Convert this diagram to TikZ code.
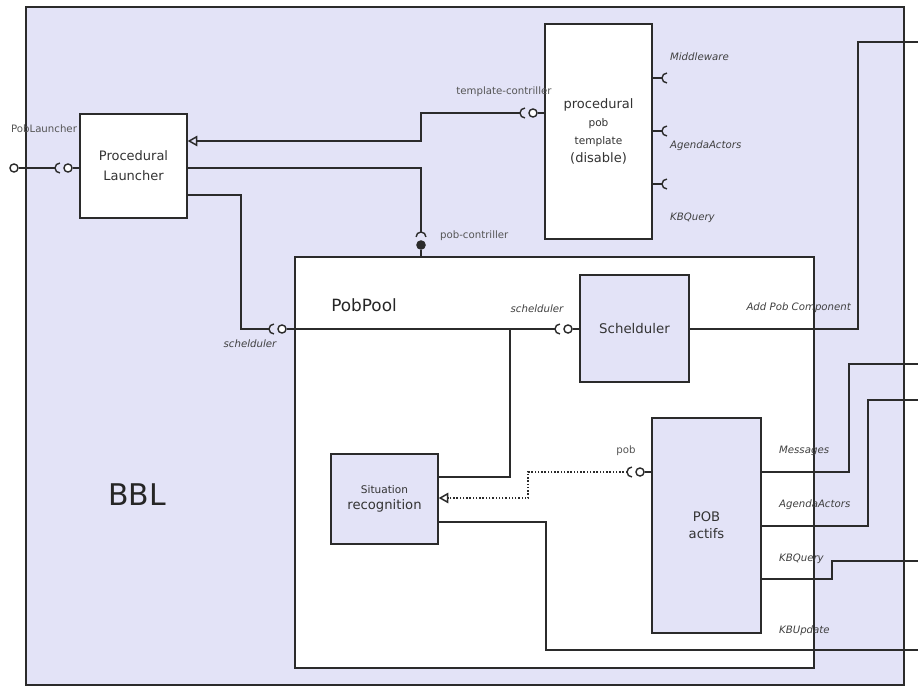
\documentclass[tikz,border=0pt]{standalone}
\usepackage{fontspec}
\setmainfont{DejaVu Sans}
\usetikzlibrary{arrows.meta,positioning,calc}
\definecolor{BBLFill}{HTML}{E3E3F7}
\definecolor{WireGray}{HTML}{2B2B2B}
\definecolor{LabelGray}{HTML}{555555}
\tikzset{
  cup/.pic={
    \draw[WireGray,line width=0.8pt] (0,0) arc[start angle=180,end angle=90,radius=2.8pt]
      (0,0) arc[start angle=180,end angle=270,radius=2.8pt];
  }
}

\begin{document}
\begin{tikzpicture}[
    x=0.02cm, y=-0.02cm,
    comp/.style={
      draw=WireGray,
      line width=0.8pt,
      fill=#1,
      inner sep=0pt,
      align=center,
      text=black!80
    },
    wire/.style={
      draw=WireGray,
      line width=0.85pt
    },
    ball/.style={
      circle,
      draw=WireGray,
      fill=#1,
      line width=0.8pt,
      inner sep=0pt,
      minimum size=4.6pt
    },
    port/.style={
      font=\fontsize{5.8}{7}\selectfont,
      text=LabelGray,
      inner sep=1pt
    },
    iface/.style={
      font=\fontsize{5.8}{7}\selectfont\itshape,
      text=black!75,
      inner sep=1pt
    },
    realize/.style={
      wire,
      -{Triangle[open,length=5.5pt,width=6pt]}
    }
  ]
  \useasboundingbox (0,0) rectangle (918,686);

  % Containers
  \node[comp=BBLFill, minimum width=17.56cm, minimum height=13.56cm] (bbl) at (465,346) {};
  \node[font=\fontsize{17}{20}\selectfont, text=black!85] (bblname) at (137,495) {BBL};
  \node[comp=white, minimum width=10.38cm, minimum height=8.22cm] (pobpool) at (554.5,462.5) {};
  \node[font=\fontsize{9.6}{11}\selectfont, text=black!85] (poolname) at (364,305) {PobPool};

  % Components
  \node[comp=white, minimum width=2.14cm, minimum height=2.08cm,
        font=\fontsize{7.4}{11.3}\selectfont] (launcher) at (133.5,166) {Procedural\\Launcher};
  \node[comp=white, minimum width=2.14cm, minimum height=4.30cm,
        font=\fontsize{6}{10.3}\selectfont] (template) at (598.5,131.5)
        {{\fontsize{7.4}{10.3}\selectfont procedural}\\pob\\template\\{\fontsize{7.4}{10.3}\selectfont (disable)}};
  \node[comp=BBLFill, minimum width=2.18cm, minimum height=2.14cm,
        font=\fontsize{7.6}{9}\selectfont] (sched) at (634.5,328.5) {Schelduler};
  \node[comp=BBLFill, minimum width=2.14cm, minimum height=1.80cm,
        font=\fontsize{6}{9}\selectfont] (situation) at (384.5,499)
        {Situation\\{\fontsize{7.5}{9}\selectfont recognition}};
  \node[comp=BBLFill, minimum width=2.18cm, minimum height=4.30cm,
        font=\fontsize{7.5}{9.6}\selectfont] (pobactifs) at (706.5,525.5) {POB\\actifs};

  % PobLauncher port
  \node[ball=white] (extball) at (14,168) {};
  \coordinate (cupL) at (55,168);
  \pic at (cupL) {cup};
  \node[ball=white] (lnchball) at (68,168) {};
  \draw[wire] (extball) -- (cupL);
  \draw[wire] (lnchball) -- (launcher.west |- lnchball);
  \node[port] (lblLaunch) at (44,129) {PobLauncher};

  % template-contriller
  \node[ball=white] (tplball) at (533,113) {};
  \coordinate (cupT) at (520,113);
  \pic at (cupT) {cup};
  \draw[wire] (tplball) -- (template.west |- tplball);
  \draw[realize] (cupT) -- (421,113) -- (421,141) -- (launcher.east |- 0,141);
  \node[port] (lblTpl) at (504,92) {template-contriller};

  % pob-contriller
  \node[ball=WireGray] (pcball) at (421,245) {};
  \coordinate (cupP) at (421,232);
  \pic[rotate=-90] at (cupP) {cup};
  \draw[wire] (launcher.east |- 0,168) -| (cupP);
  \draw[wire] (pcball) -- (pcball |- pobpool.north);
  \node[port, anchor=west] (lblPc) at (438,236) {pob-contriller};

  % template required interfaces
  \foreach \yy in {78,131,184} {
    \coordinate (cup\yy) at (662,\yy);
    \draw[wire] (template.east |- cup\yy) -- (cup\yy);
    \pic at (cup\yy) {cup};
  }
  \node[iface, anchor=west] (lblMw)  at (668,57)  {Middleware};
  \node[iface, anchor=west] (lblAgT) at (668,146) {AgendaActors};
  \node[iface, anchor=west] (lblKbT) at (668,218) {KBQuery};

  % schelduler delegation
  \node[ball=white] (ppball) at (282,329) {};
  \coordinate (cupPP) at (269,329);
  \pic at (cupPP) {cup};
  \draw[wire] (launcher.east |- 0,195) -- (241,195) |- (cupPP);
  \node[ball=white] (schball) at (568,329) {};
  \coordinate (cupS) at (555,329);
  \pic at (cupS) {cup};
  \draw[wire] (ppball) -- (cupS);
  \draw[wire] (schball) -- (sched.west |- schball);
  \coordinate (jct) at (510,329);
  \draw[wire] (jct) |- (situation.east |- 0,477);
  \node[iface] (lblSchA) at (250,344) {schelduler};
  \node[iface] (lblSchB) at (537,309) {schelduler};

  % pob
  \node[ball=white] (pobball) at (640,472) {};
  \coordinate (cupB) at (627,472);
  \pic at (cupB) {cup};
  \draw[wire] (pobball) -- (pobactifs.west |- pobball);
  \draw[realize, densely dotted] (cupB) -- (528,472) -- (528,498) -- (situation.east |- 0,498);
  \node[port] (lblPob) at (626,451) {pob};

  % outgoing wires
  \coordinate (outAdd) at (918,42);
  \coordinate (outMsg) at (918,364);
  \coordinate (outAg)  at (918,400);
  \coordinate (outKbq) at (918,561);
  \coordinate (outUpd) at (918,650);
  \draw[wire] (sched.east |- 0,329) -- (858,329) |- (outAdd);
  \draw[wire] (pobactifs.east |- 0,472) -- (849,472) |- (outMsg);
  \draw[wire] (pobactifs.east |- 0,526) -- (868,526) |- (outAg);
  \draw[wire] (pobactifs.east |- 0,579) -- (832,579) |- (outKbq);
  \draw[wire] (situation.east |- 0,522) -- (546,522) |- (outUpd);
  \node[iface, anchor=east] (lblAdd) at (853,308) {Add Pob Component};
  \node[iface, anchor=west] (lblMsg) at (777,451) {Messages};
  \node[iface, anchor=west] (lblAg)  at (777,505) {AgendaActors};
  \node[iface, anchor=west] (lblKbq) at (777,559) {KBQuery};
  \node[iface, anchor=west] (lblUpd) at (777,631) {KBUpdate};

\end{tikzpicture}
\end{document}
